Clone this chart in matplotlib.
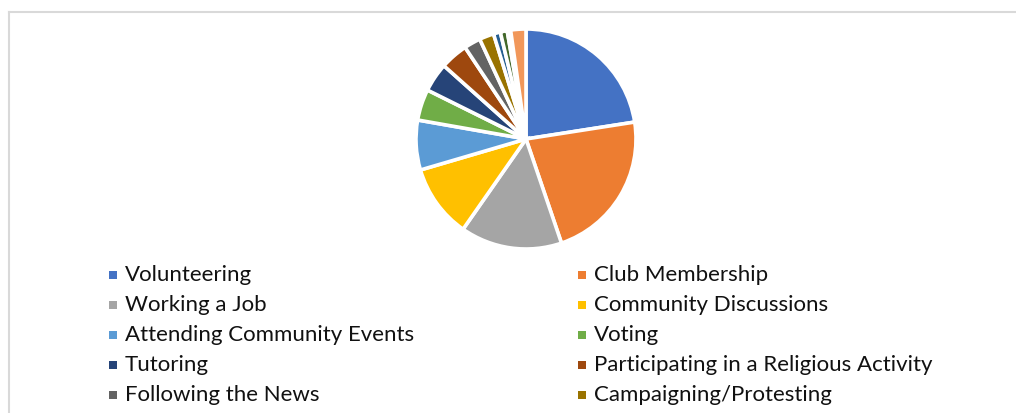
import matplotlib.pyplot as plt
from matplotlib.patches import Rectangle

# share of students by type of civic engagement
categories = ["Volunteering", "Club Membership", "Working a Job", "Community Discussions",
              "Attending Community Events", "Voting", "Tutoring",
              "Participating in a Religious Activity", "Following the News",
              "Campaigning/Protesting"]
values = [22.2, 21.9, 14.7, 10.6, 7.2, 4.5, 4.2, 4.0, 2.4, 2.1]
# remaining small slices (their legend rows fall below the visible area)
extra_values = [1.0, 1.0, 0.5, 2.2]

colors = ["#4472C4", "#ED7D31", "#A5A5A5", "#FFC000", "#5B9BD5", "#70AD47",
          "#264478", "#9E480E", "#636363", "#997300", "#255E91", "#43682B",
          "#698ED0", "#F1975A"]

W, H = 1016, 413
fig = plt.figure(figsize=(W / 100, H / 100), dpi=100)

# chart frame (only top and left edges fall inside the image)
fig.add_artist(plt.Line2D([8.5 / W, 8.5 / W], [0, 1 - 11.5 / H], transform=fig.transFigure,
                          color="#d9d9d9", lw=1.5))
fig.add_artist(plt.Line2D([8.5 / W, 1], [1 - 11.5 / H, 1 - 11.5 / H], transform=fig.transFigure,
                          color="#d9d9d9", lw=1.5))

cx, cy, r = 526, 139, 110
ax = fig.add_axes([(cx - r) / W, (H - cy - r) / H, 2 * r / W, 2 * r / H])
ax.pie(values + extra_values, colors=colors, startangle=90, counterclock=False,
       radius=1.0, wedgeprops=dict(edgecolor="white", linewidth=2.6))
ax.set_xlim(-1, 1)
ax.set_ylim(-1, 1)
ax.set_aspect("auto")
ax.axis("off")

# legend in two columns, filled row by row
col_x = [109, 578]
row_y = [275, 305, 335, 365, 395]
for i, name in enumerate(categories):
    x = col_x[i % 2]
    y = row_y[i // 2]
    fig.add_artist(Rectangle((x / W, (H - y - 4) / H), 8 / W, 8 / H,
                             transform=fig.transFigure, color=colors[i], lw=0))
    fig.text((x + 16) / W, (H - y) / H, name, fontsize=16, family="Lato",
             color="#111111", va="center", ha="left")

fig.savefig("out.png", dpi=100)
